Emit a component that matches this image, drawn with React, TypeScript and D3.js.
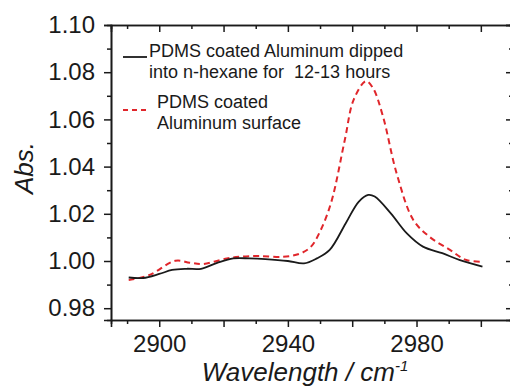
// IR absorbance spectra of PDMS-coated aluminum, before/after n-hexane dip.
import { useEffect, useRef } from "react";
import * as d3 from "d3";

// Wavenumber (cm-1) / absorbance
const dippedX = [2890.5, 2895, 2900, 2904, 2908.5, 2913, 2918, 2923, 2928, 2933, 2940, 2945, 2949, 2953, 2958, 2962, 2965, 2967, 2972, 2977, 2982, 2988, 2993.5, 3000.5];
const dippedY = [0.993, 0.9928, 0.9945, 0.9962, 0.9967, 0.9967, 0.9992, 1.0011, 1.0011, 1.0008, 1.0, 0.999, 1.0011, 1.0047, 1.016, 1.0251, 1.028, 1.0273, 1.0202, 1.0117, 1.0061, 1.0033, 1.0004, 0.9976];

const coatedX = [2890.5, 2897, 2905, 2909.5, 2913.5, 2921, 2925, 2931, 2938.5, 2943.5, 2947, 2950, 2953.5, 2957.7, 2960.5, 2964.3, 2966.5, 2969.6, 2973.8, 2979, 2984, 2990.4, 2995.5, 3000.5];
const coatedY = [0.9919, 0.9941, 1.0001, 0.9993, 0.9987, 1.0011, 1.0018, 1.0021, 1.0018, 1.003, 1.0058, 1.0125, 1.025, 1.0513, 1.0685, 1.0762, 1.0732, 1.0611, 1.0372, 1.0174, 1.0103, 1.0047, 1.0004, 0.9997];

const xMajorTicks = [2900, 2920, 2940, 2960, 2980, 3000];
const xMinorTicks = [2890, 2910, 2930, 2950, 2970, 2990, 3010];
const xTickLabels = [2900, 2940, 2980];
const yMajorTicks = [0.98, 1.0, 1.02, 1.04, 1.06, 1.08, 1.1];
const yMinorTicks = [0.99, 1.01, 1.03, 1.05, 1.07, 1.09];

const legendDipped = ["PDMS coated Aluminum dipped", "into n-hexane for  12-13 hours"];
const legendCoated = ["PDMS coated", "Aluminum surface"];

const RED = "#e0262b";
const INK = "#1a1a1a";
const FONT = "'Liberation Sans', Arial, sans-serif";

export default function App() {
  const svgRef = useRef<SVGSVGElement | null>(null);

  useEffect(() => {
    const svg = d3.select(svgRef.current);
    svg.selectAll("*").remove();

    const W = 510;
    const H = 390;
    const margin = { top: 25, right: -3, bottom: 70, left: 111 };
    const w = W - margin.left - margin.right;
    const h = H - margin.top - margin.bottom;

    const g = svg
      .append("g")
      .attr("transform", `translate(${margin.left},${margin.top})`)
      .attr("font-family", FONT);

    const x = d3.scaleLinear().domain([2885, 3010]).range([0, w]);
    const y = d3.scaleLinear().domain([0.975, 1.1]).range([h, 0]);

    const styleAxis = (sel: d3.Selection<SVGGElement, unknown, null, undefined>) => {
      sel.select(".domain").attr("stroke", INK).attr("stroke-width", 1.6);
      sel.selectAll(".tick line").attr("stroke", INK).attr("stroke-width", 1.5);
      sel.selectAll(".tick text").attr("fill", INK).attr("font-size", 24).attr("font-family", FONT);
    };

    // bottom: outward ticks, labels every 40
    const bottom = g.append("g").attr("transform", `translate(0,${h})`);
    bottom.call(
      d3.axisBottom(x).tickValues(xMajorTicks).tickSizeOuter(0).tickSize(7).tickPadding(8)
        .tickFormat((v) => (xTickLabels.includes(v as number) ? String(v) : "")),
    );
    styleAxis(bottom);
    const bottomMinor = g.append("g").attr("transform", `translate(0,${h})`);
    bottomMinor.call(d3.axisBottom(x).tickValues(xMinorTicks).tickSizeOuter(0).tickSize(4).tickFormat(() => ""));
    styleAxis(bottomMinor);

    // top: inward ticks
    const top = g.append("g");
    top.call(d3.axisTop(x).tickValues(xMajorTicks).tickSizeOuter(0).tickSize(-7).tickFormat(() => ""));
    styleAxis(top);
    const topMinor = g.append("g");
    topMinor.call(d3.axisTop(x).tickValues(xMinorTicks).tickSizeOuter(0).tickSize(-4).tickFormat(() => ""));
    styleAxis(topMinor);

    // left: outward ticks with labels
    const left = g.append("g");
    left.call(
      d3.axisLeft(y).tickValues(yMajorTicks).tickSizeOuter(0).tickSize(7).tickPadding(9)
        .tickFormat((v) => d3.format(".2f")(v as number)),
    );
    styleAxis(left);
    const leftMinor = g.append("g");
    leftMinor.call(d3.axisLeft(y).tickValues(yMinorTicks).tickSizeOuter(0).tickSize(4).tickFormat(() => ""));
    styleAxis(leftMinor);

    // right: inward ticks
    const right = g.append("g").attr("transform", `translate(${w},0)`);
    right.call(d3.axisRight(y).tickValues(yMajorTicks).tickSizeOuter(0).tickSize(-7).tickFormat(() => ""));
    styleAxis(right);
    const rightMinor = g.append("g").attr("transform", `translate(${w},0)`);
    rightMinor.call(d3.axisRight(y).tickValues(yMinorTicks).tickSizeOuter(0).tickSize(-4).tickFormat(() => ""));
    styleAxis(rightMinor);

    const line = d3
      .line<[number, number]>()
      .x((d) => x(d[0]))
      .y((d) => y(d[1]))
      .curve(d3.curveCatmullRom.alpha(0.5));

    const coated = coatedX.map((v, i) => [v, coatedY[i]] as [number, number]);
    const dipped = dippedX.map((v, i) => [v, dippedY[i]] as [number, number]);

    g.append("path")
      .datum(coated)
      .attr("fill", "none")
      .attr("stroke", RED)
      .attr("stroke-width", 2)
      .attr("stroke-dasharray", "6,4")
      .attr("d", line);

    g.append("path")
      .datum(dipped)
      .attr("fill", "none")
      .attr("stroke", INK)
      .attr("stroke-width", 1.8)
      .attr("d", line);

    // legend
    const legend = svg.append("g").attr("font-family", FONT).attr("font-size", 18).attr("fill", INK);
    legend.append("line").attr("x1", 123).attr("x2", 147).attr("y1", 57).attr("y2", 57)
      .attr("stroke", INK).attr("stroke-width", 1.8);
    legendDipped.forEach((t, i) => {
      legend.append("text").attr("x", 149).attr("y", 57 + i * 21)
        .style("white-space", "pre").text(t);
    });
    legend.append("line").attr("x1", 123).attr("x2", 147).attr("y1", 110).attr("y2", 110)
      .attr("stroke", RED).attr("stroke-width", 2).attr("stroke-dasharray", "5,4");
    legendCoated.forEach((t, i) => {
      legend.append("text").attr("x", 157).attr("y", 108 + i * 21).text(t);
    });

    // axis titles
    const xt = svg.append("text")
      .attr("x", 305)
      .attr("y", 381)
      .attr("text-anchor", "middle")
      .attr("font-family", FONT)
      .attr("font-size", 26)
      .attr("font-style", "italic")
      .attr("fill", INK);
    xt.append("tspan").text("Wavelength / cm");
    xt.append("tspan").attr("font-size", 15).attr("dy", -10).text("-1");

    svg.append("text")
      .attr("transform", "translate(33,168) rotate(-90)")
      .attr("text-anchor", "middle")
      .attr("font-family", FONT)
      .attr("font-size", 26)
      .attr("font-style", "italic")
      .attr("fill", INK)
      .text("Abs.");
  }, []);

  return (
    <svg
      ref={svgRef}
      width={510}
      height={390}
      style={{ position: "absolute", left: 0, top: 0, background: "#fff" }}
    />
  );
}
